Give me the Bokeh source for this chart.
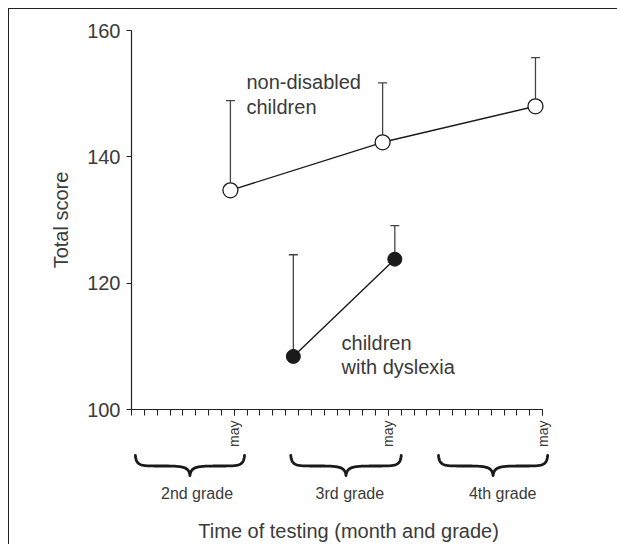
import math
import numpy as np
from bokeh.plotting import figure
from bokeh.layouts import column
from bokeh.models import FixedTicker, Range1d, ColumnDataSource
from bokeh.core.properties import value
from bokeh.embed import file_html
from bokeh.resources import INLINE

# ---------------- data ----------------
nd_month = [7.7, 19.55, 31.45]
nd_score = [134.7, 142.3, 148.0]
nd_upper = [148.9, 151.7, 155.7]

dys_month = [12.6, 20.5]
dys_score = [108.4, 123.8]
dys_upper = [124.5, 129.1]

y_ticks = [100, 120, 140, 160]
month_ticks = list(range(0, 33))
may_months = [8, 20, 32]
may_label = "may"

grade_labels = ["2nd grade", "3rd grade", "4th grade"]
grade_label_x = [5.1, 17.0, 28.9]
brace_start = [0.3, 12.4, 23.9]
brace_end = [8.8, 21.0, 32.4]

ann_text = ["non-disabled", "children", "children", "with dyslexia"]
ann_x = [8.95, 8.95, 16.35, 16.35]
ann_y = [151.8, 147.85, 110.45, 106.65]

FONT = "Liberation Sans"
TXT = "#3a3a3a"

# ---------------- main figure ----------------
p = figure(width=608, height=440, output_backend="svg", toolbar_location=None,
           x_range=Range1d(0, 34.8), y_range=Range1d(100, 160),
           min_border_left=122, min_border_right=39, min_border_top=21,
           min_border_bottom=40)
p.outline_line_color = None
p.xgrid.visible = False
p.ygrid.visible = False
p.background_fill_color = "white"
p.border_fill_color = "white"

xa = p.xaxis[0]
xa.ticker = FixedTicker(ticks=may_months, minor_ticks=month_ticks)
xa.major_label_overrides = {m: may_label for m in may_months}
xa.major_label_orientation = math.pi / 2
xa.bounds = (0, 32)
xa.major_tick_in = 0
xa.major_tick_out = 6
xa.minor_tick_in = 0
xa.minor_tick_out = 6
xa.major_label_standoff = 5
xa.major_label_text_font = FONT
xa.major_label_text_font_size = "14px"
xa.major_label_text_color = TXT
xa.axis_line_color = "#222222"
xa.major_tick_line_color = "#222222"
xa.minor_tick_line_color = "#222222"
xa.axis_line_width = 1.2

ya = p.yaxis[0]
ya.ticker = FixedTicker(ticks=y_ticks, minor_ticks=[])
ya.bounds = (100, 160)
ya.major_tick_in = 0
ya.major_tick_out = 5
ya.minor_tick_line_color = None
ya.major_label_standoff = 6
ya.major_label_text_font = FONT
ya.major_label_text_font_size = "20px"
ya.major_label_text_color = TXT
ya.axis_label = "Total score"
ya.axis_label_text_font = FONT
ya.axis_label_text_font_size = "20px"
ya.axis_label_text_font_style = "normal"
ya.axis_label_text_color = TXT
ya.axis_label_standoff = 12
ya.axis_line_color = "#222222"
ya.major_tick_line_color = "#222222"
ya.axis_line_width = 1.2

nd = ColumnDataSource(dict(x=nd_month, y=nd_score, up=nd_upper))
dy = ColumnDataSource(dict(x=dys_month, y=dys_score, up=dys_upper))

for src in (nd, dy):
    p.segment(x0="x", y0="y", x1="x", y1="up", source=src,
              line_color="#444444", line_width=1.3)
    p.scatter(x="x", y="up", source=src, marker="dash", size=9,
              line_color="#444444", line_width=1.3)

p.line(x="x", y="y", source=nd, line_color="#1a1a1a", line_width=1.4)
p.line(x="x", y="y", source=dy, line_color="#1a1a1a", line_width=1.4)
p.scatter(x="x", y="y", source=nd, size=15, fill_color="white",
          line_color="#1a1a1a", line_width=1.3)
p.scatter(x="x", y="y", source=dy, size=14, fill_color="#1a1a1a",
          line_color="#1a1a1a", line_width=1.0)

p.text(x=ann_x, y=ann_y, text=ann_text, text_font=value(FONT),
       text_font_size="20px", text_color=TXT, text_baseline="alphabetic",
       text_align="left")

# ---------------- lower figure (braces, grades, x title) ----------------
q = figure(width=608, height=95, output_backend="svg", toolbar_location=None,
           x_range=p.x_range, y_range=Range1d(95, 0),
           min_border_left=122, min_border_right=39, min_border_top=0,
           min_border_bottom=0)
q.axis.visible = False
q.xgrid.visible = False
q.ygrid.visible = False
q.outline_line_color = None
q.background_fill_color = "white"
q.border_fill_color = "white"

BR_TOP, BR_MID, BR_TIP = 6.0, 16.5, 26.0


def cubic(p0, p1, p2, p3, n=30):
    t = np.linspace(0, 1, n)[:, None]
    pts = ((1 - t) ** 3) * p0 + 3 * ((1 - t) ** 2) * t * p1 + 3 * (1 - t) * t ** 2 * p2 + t ** 3 * p3
    return pts


bx, by = [], []
for s, e in zip(brace_start, brace_end):
    c = (s + e) / 2.0
    h = (e - s) / 2.0
    P = lambda a, b: np.array([a, b], dtype=float)
    seg1 = cubic(P(s, BR_TOP), P(s + 0.02 * h, BR_MID), P(s + 0.1 * h, BR_MID), P(s + 0.45 * h, BR_MID))
    seg2 = cubic(P(s + 0.45 * h, BR_MID), P(c - 0.15 * h, BR_MID), P(c - 0.02 * h, BR_MID), P(c, BR_TIP))
    seg3 = cubic(P(c, BR_TIP), P(c + 0.02 * h, BR_MID), P(c + 0.15 * h, BR_MID), P(e - 0.45 * h, BR_MID))
    seg4 = cubic(P(e - 0.45 * h, BR_MID), P(e - 0.1 * h, BR_MID), P(e - 0.02 * h, BR_MID), P(e, BR_TOP))
    pts = np.vstack([seg1, seg2, seg3, seg4])
    bx.append(list(pts[:, 0]))
    by.append(list(pts[:, 1]))

q.multi_line(xs=bx, ys=by, line_color="#1a1a1a", line_width=2.8,
             line_cap="round", line_join="round")

q.text(x=grade_label_x, y=[44] * 3, text=grade_labels, text_font=value(FONT),
       text_font_size="16px", text_color=TXT, text_align="center",
       text_baseline="middle")

q.text(x=[16.9], y=[81], text=["Time of testing (month and grade)"],
       text_font=value(FONT), text_font_size="20px", text_color=TXT,
       text_align="center", text_baseline="middle")

layout = column(p, q, spacing=0,
                styles={"margin-left": "8px", "margin-top": "8px",
                        "border-top": "1.5px solid #222222",
                        "border-left": "1.5px solid #222222"})

open("out.html", "w").write(file_html(layout, INLINE))
